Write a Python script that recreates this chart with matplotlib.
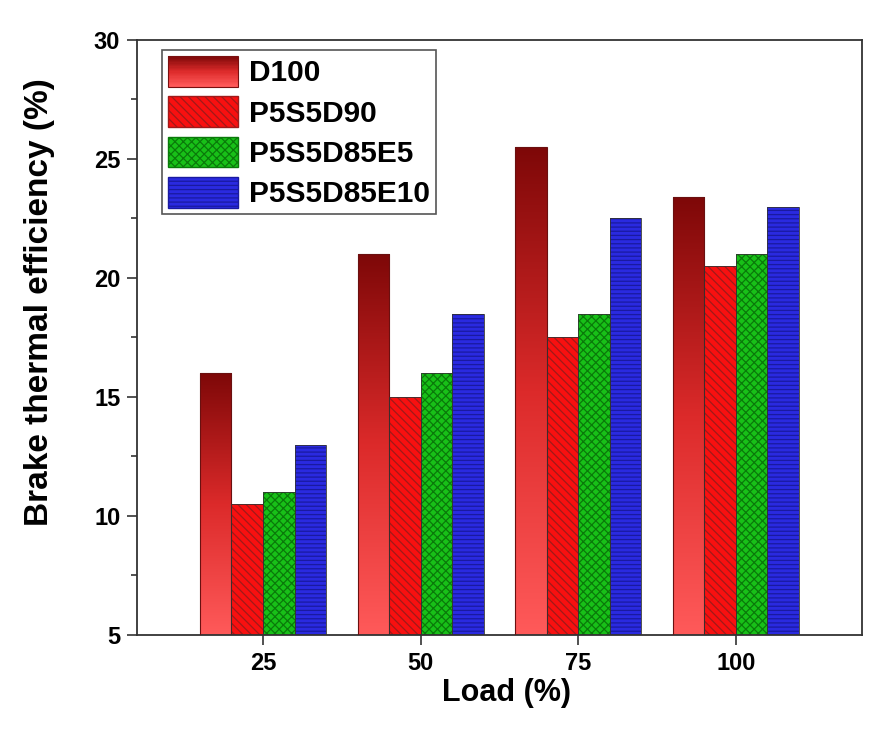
import numpy as np
import matplotlib
matplotlib.use("Agg")
import matplotlib.pyplot as plt
from matplotlib.colors import LinearSegmentedColormap
from matplotlib.legend_handler import HandlerBase
from matplotlib.patches import Patch, Rectangle
from matplotlib.ticker import MultipleLocator

# data
loads = ["25", "50", "75", "100"]
d100 = [16.0, 21.0, 25.5, 23.4]
p5s5d90 = [10.5, 15.0, 17.5, 20.5]
p5s5d85e5 = [11.0, 16.0, 18.5, 21.0]
p5s5d85e10 = [13.0, 18.5, 22.5, 23.0]
series_names = ["D100", "P5S5D90", "P5S5D85E5", "P5S5D85E10"]

plt.rcParams["font.family"] = ["Liberation Sans", "DejaVu Sans"]
plt.rcParams["font.weight"] = "bold"
plt.rcParams["hatch.linewidth"] = 0.9

red_grad = LinearSegmentedColormap.from_list("redgrad", ["#ff5a5a", "#dc2a2a", "#7e0808"])


class GradientHandler(HandlerBase):
    def create_artists(self, legend, orig_handle, xdescent, ydescent, width, height, fontsize, trans):
        n = 24
        artists = []
        for i in range(n):
            artists.append(Rectangle((-xdescent, -ydescent + i * height / n), width, height / n + 0.3,
                                     facecolor=red_grad(i / (n - 1)), lw=0, transform=trans))
        artists.append(Rectangle((-xdescent, -ydescent), width, height, fill=False,
                                 edgecolor="#7a1010", lw=0.8, transform=trans))
        return artists


fig = plt.figure(figsize=(8.95, 7.4), dpi=100)
ax = fig.add_axes([0.153, 0.142, 0.81, 0.804])

x = np.arange(1, len(loads) + 1)
width = 0.2

# D100: gradient bars
bars = ax.bar(x - 1.5 * width, d100, width, bottom=0, color="#d03030", lw=0)
grad = np.linspace(0, 1, 256).reshape(-1, 1)
for b in bars:
    x0, y0 = b.get_x(), 5
    h = b.get_height()
    im = ax.imshow(grad, cmap=red_grad, origin="lower", aspect="auto",
                   extent=[x0, x0 + width, y0, h], zorder=2)
    im.set_clip_path(b)
ax.bar(x - 1.5 * width, d100, width, fill=False, edgecolor="#6a1010", lw=0.8, zorder=3)

# hatched bars
styles = [
    (p5s5d90, -0.5, "#f81010", "#a01a1a", "\\\\\\\\"),
    (p5s5d85e5, 0.5, "#18c018", "#0a7a0a", "xxxx"),
    (p5s5d85e10, 1.5, "#2a2ae0", "#1a1aa0", "----"),
]
for vals, off, fc, hc, hatch in styles:
    ax.bar(x + off * width, vals, width, facecolor=fc, edgecolor=hc, hatch=hatch, lw=0, zorder=2)
    ax.bar(x + off * width, vals, width, fill=False, edgecolor="#333333", lw=0.6, zorder=3)

ax.set_xlim(0.2, 4.8)
ax.set_ylim(5, 30)
ax.set_xticks(x)
ax.set_xticklabels(loads)
ax.yaxis.set_major_locator(MultipleLocator(5))
ax.yaxis.set_minor_locator(MultipleLocator(2.5))
ax.tick_params(axis="both", which="major", direction="out", length=7, width=1.2,
               labelsize=17, color="#333333", pad=5)
ax.tick_params(axis="y", which="minor", direction="out", length=4, width=1.2, color="#333333")
ax.tick_params(top=False, right=False)
for s in ax.spines.values():
    s.set_linewidth(1.3)
    s.set_color("#333333")

ax.set_xlabel("Load (%)", fontsize=22, fontweight="bold")
ax.set_ylabel("Brake thermal efficiency (%)", fontsize=24, fontweight="bold")
ax.xaxis.set_label_coords(0.51, -0.072)
ax.yaxis.set_label_coords(-0.113, 0.56)

handles = [
    Patch(label=series_names[0]),
    Patch(facecolor="#f81010", edgecolor="#a01a1a", hatch="\\\\\\\\", label=series_names[1]),
    Patch(facecolor="#18c018", edgecolor="#0a7a0a", hatch="xxxx", label=series_names[2]),
    Patch(facecolor="#2a2ae0", edgecolor="#1a1aa0", hatch="----", label=series_names[3]),
]
leg = ax.legend(handles=handles, loc="upper left", bbox_to_anchor=(0.035, 0.983),
                borderaxespad=0, fancybox=False, edgecolor="#555555", framealpha=1,
                prop={"size": 21.5, "weight": "bold"}, handlelength=2.35, handleheight=1.2,
                labelspacing=0.3, handletextpad=0.35, borderpad=0.2,
                handler_map={handles[0]: GradientHandler()})
leg.get_frame().set_linewidth(1.2)

fig.savefig("out.png", dpi=100)
